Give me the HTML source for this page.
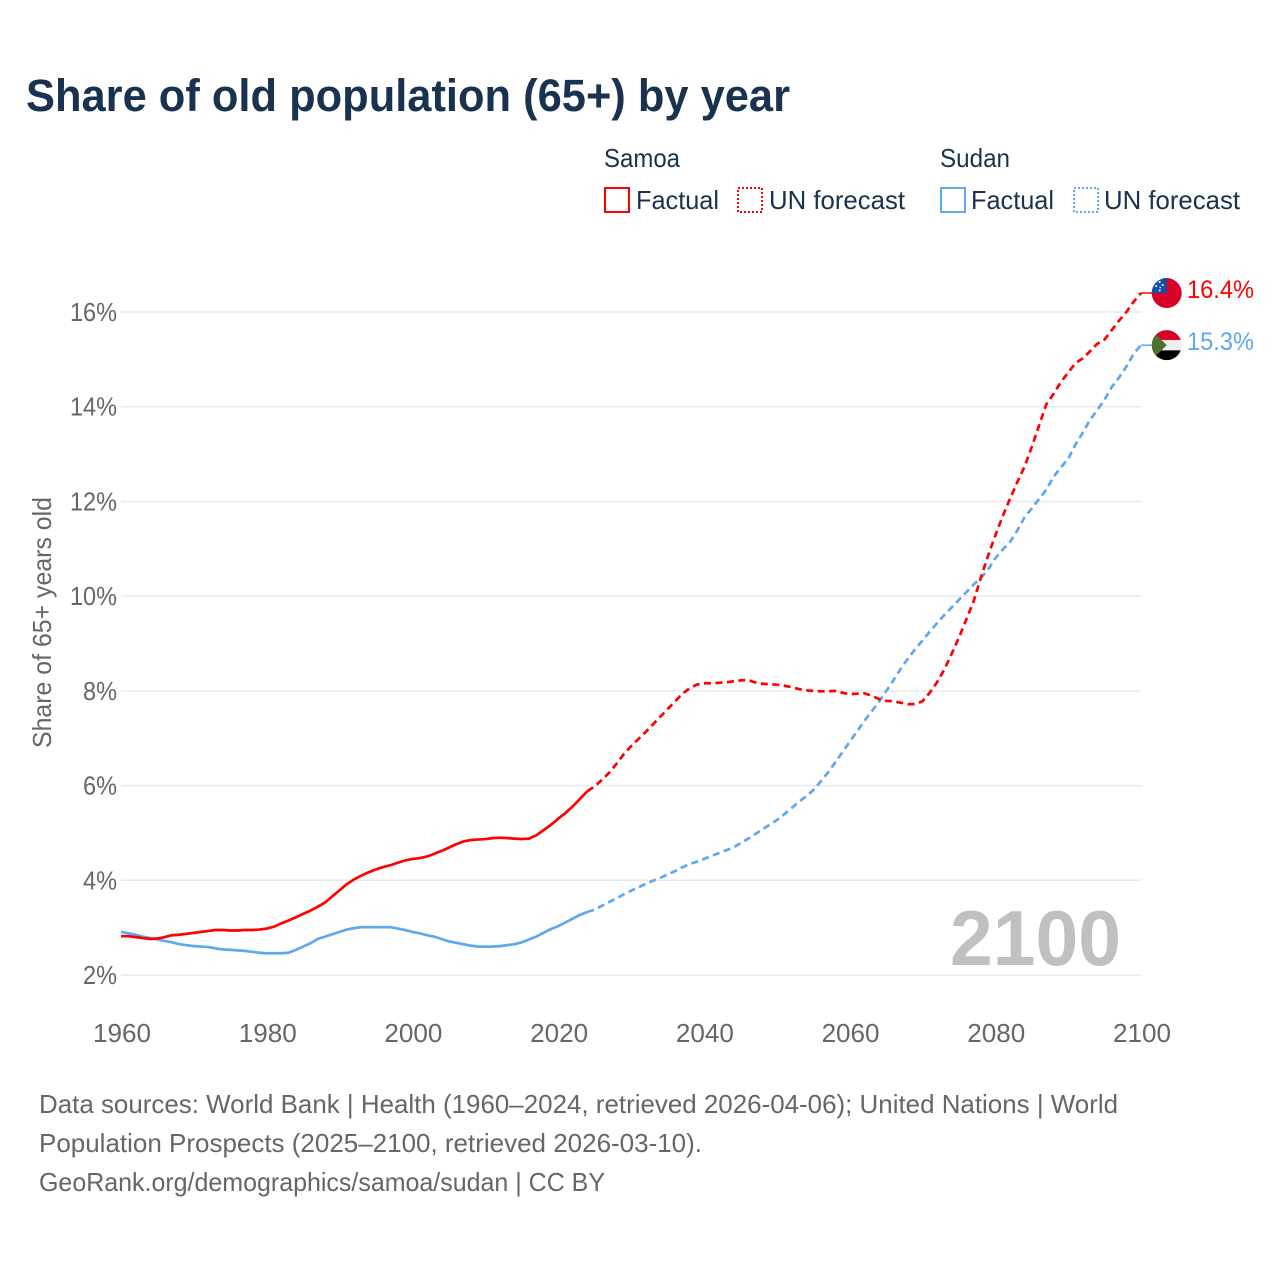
<!DOCTYPE html>
<html lang="en">
<head>
<meta charset="utf-8">
<title>Share of old population (65+) by year</title>
<style>
html,body{margin:0;padding:0;background:#fff;}
svg{display:block;font-family:"Liberation Sans",sans-serif;}
</style>
</head>
<body>
<svg id="chart" xmlns="http://www.w3.org/2000/svg" width="1280" height="1280" viewBox="0 0 1280 1280">
  <defs>
    <clipPath id="flag-clip"><circle cx="0" cy="0" r="15"></circle></clipPath>
  </defs>
  <rect x="0" y="0" width="1280" height="1280" fill="#ffffff"></rect>
  <text x="26" y="111" font-size="45" font-weight="700" fill="#18324f" textLength="764" lengthAdjust="spacingAndGlyphs">Share of old population (65+) by year</text>

  <g font-size="26" fill="#18324f">
    <text x="604" y="167" textLength="76" lengthAdjust="spacingAndGlyphs">Samoa</text>
    <rect x="605" y="188" width="24" height="24" fill="none" stroke="#ff0000" stroke-width="2"></rect>
    <text x="636" y="209" textLength="83" lengthAdjust="spacingAndGlyphs">Factual</text>
    <rect x="738" y="188" width="24" height="24" fill="none" stroke="#ff0000" stroke-width="2" stroke-dasharray="2 2"></rect>
    <text x="769" y="209" textLength="136" lengthAdjust="spacingAndGlyphs">UN forecast</text>
    <text x="940" y="167" textLength="70" lengthAdjust="spacingAndGlyphs">Sudan</text>
    <rect x="941" y="188" width="24" height="24" fill="none" stroke="#5ea8ee" stroke-width="2"></rect>
    <text x="971" y="209" textLength="83" lengthAdjust="spacingAndGlyphs">Factual</text>
    <rect x="1074" y="188" width="24" height="24" fill="none" stroke="#5ea8ee" stroke-width="2" stroke-dasharray="2 2"></rect>
    <text x="1104" y="209" textLength="136" lengthAdjust="spacingAndGlyphs">UN forecast</text>
  </g>

  <g id="grid"></g>
  <g id="y-ticks"></g>
  <g id="x-ticks"></g>
  <text transform="translate(51,748) rotate(-90)" font-size="26" fill="#666666" textLength="251" lengthAdjust="spacingAndGlyphs">Share of 65+ years old</text>
  <text x="950" y="965" font-size="78" font-weight="700" fill="#c0c0c0" textLength="171" lengthAdjust="spacingAndGlyphs">2100</text>

  <g id="series"></g>

  <g id="flag-samoa">
    <g clip-path="url(#flag-clip)">
      <rect x="-16" y="-16" width="32" height="32" fill="#d80027"></rect>
      <rect x="-16" y="-16" width="16" height="16" fill="#0b52a8"></rect>
      <circle cx="-7" cy="-11" r="1" fill="#fff"></circle>
      <circle cx="-10.5" cy="-7" r="1" fill="#fff"></circle>
      <circle cx="-4" cy="-8" r="1" fill="#fff"></circle>
      <circle cx="-6.5" cy="-5.5" r="0.8" fill="#fff"></circle>
      <circle cx="-7" cy="-2.5" r="1" fill="#fff"></circle>
    </g>
  </g>
  <g id="flag-sudan">
    <g clip-path="url(#flag-clip)">
      <rect x="-16" y="-16" width="32" height="11" fill="#d80027"></rect>
      <rect x="-16" y="-5.2" width="32" height="10.4" fill="#eeeeee"></rect>
      <rect x="-16" y="5.2" width="32" height="11" fill="#000000"></rect>
      <polygon points="-16,-16 0,0 -16,16" fill="#4f6f2f"></polygon>
    </g>
  </g>
  <text id="label-samoa" x="1187" font-size="25" fill="#ff0000" textLength="67" lengthAdjust="spacingAndGlyphs"></text>
  <text id="label-sudan" x="1187" font-size="25" fill="#5ea8ee" textLength="67" lengthAdjust="spacingAndGlyphs"></text>

  <g font-size="26" fill="#666666">
    <text x="39" y="1113" textLength="1079" lengthAdjust="spacingAndGlyphs">Data sources: World Bank | Health (1960–2024, retrieved 2026-04-06); United Nations | World</text>
    <text x="39" y="1152" textLength="663" lengthAdjust="spacingAndGlyphs">Population Prospects (2025–2100, retrieved 2026-03-10).</text>
    <text x="39" y="1191" textLength="566" lengthAdjust="spacingAndGlyphs">GeoRank.org/demographics/samoa/sudan | CC BY</text>
  </g>
</svg>
<script>
const xTickYears = [1960, 1980, 2000, 2020, 2040, 2060, 2080, 2100];
const yTickValues = [2, 4, 6, 8, 10, 12, 14, 16];
const factualStartYear = 1960;
const forecastStartYear = 2024;
const samoaFactual = [2.82,2.82,2.80,2.78,2.76,2.77,2.80,2.84,2.85,2.87,2.89,2.91,2.93,2.95,2.95,2.94,2.94,2.95,2.95,2.96,2.98,3.02,3.09,3.15,3.22,3.29,3.36,3.44,3.53,3.66,3.79,3.92,4.02,4.10,4.17,4.23,4.28,4.32,4.37,4.42,4.45,4.47,4.50,4.56,4.62,4.69,4.76,4.82,4.85,4.86,4.87,4.89,4.90,4.89,4.88,4.87,4.88,4.95,5.06,5.17,5.30,5.42,5.56,5.72,5.88];
const sudanFactual = [2.91,2.88,2.85,2.81,2.78,2.75,2.72,2.69,2.65,2.63,2.61,2.60,2.59,2.56,2.54,2.53,2.52,2.51,2.49,2.47,2.46,2.46,2.46,2.47,2.53,2.60,2.67,2.76,2.81,2.86,2.91,2.96,2.99,3.01,3.01,3.01,3.01,3.01,2.98,2.95,2.91,2.88,2.84,2.81,2.76,2.71,2.68,2.65,2.62,2.60,2.60,2.60,2.61,2.63,2.65,2.69,2.75,2.81,2.89,2.97,3.03,3.11,3.19,3.27,3.33];
const samoaForecast = [5.88,5.98,6.12,6.27,6.46,6.66,6.83,6.98,7.13,7.29,7.45,7.61,7.77,7.93,8.05,8.13,8.16,8.16,8.17,8.18,8.20,8.22,8.23,8.18,8.15,8.14,8.13,8.11,8.08,8.04,8.01,8.00,7.99,7.99,8.00,7.96,7.93,7.94,7.95,7.90,7.83,7.79,7.78,7.75,7.72,7.72,7.78,7.96,8.18,8.45,8.78,9.12,9.50,9.88,10.38,10.85,11.28,11.68,12.05,12.40,12.73,13.15,13.60,14.05,14.27,14.52,14.72,14.92,15.02,15.17,15.33,15.42,15.62,15.82,16.00,16.22,16.40];
const sudanForecast = [3.33,3.38,3.46,3.54,3.62,3.70,3.78,3.85,3.92,3.99,4.05,4.12,4.19,4.27,4.34,4.39,4.45,4.51,4.57,4.63,4.69,4.78,4.87,4.97,5.07,5.17,5.27,5.39,5.52,5.65,5.77,5.90,6.08,6.27,6.48,6.70,6.92,7.14,7.36,7.56,7.76,7.99,8.22,8.46,8.68,8.88,9.06,9.25,9.43,9.60,9.76,9.92,10.08,10.24,10.38,10.56,10.80,10.98,11.14,11.38,11.66,11.85,12.05,12.25,12.52,12.72,12.90,13.20,13.45,13.72,13.93,14.15,14.42,14.62,14.85,15.12,15.30];

const NS = 'http://www.w3.org/2000/svg';
const plotLeft = 121, plotRight = 1141, plotBottom = 975, plotTop = 312;
function xScale(year) { return plotLeft + (year - 1960) * (plotRight - plotLeft) / 140; }
function yScale(v) { return plotBottom - (v - 2) * (plotBottom - plotTop) / 14; }
function make(tag, parent, attrs) {
  const el = document.createElementNS(NS, tag);
  for (const k in attrs) el.setAttribute(k, attrs[k]);
  parent.appendChild(el);
  return el;
}
const gridGroup = document.getElementById('grid');
const yTickGroup = document.getElementById('y-ticks');
const xTickGroup = document.getElementById('x-ticks');
const seriesGroup = document.getElementById('series');

yTickValues.forEach(function (v) {
  const line = make('line', gridGroup, { x1: plotLeft, x2: plotRight, y1: yScale(v), y2: yScale(v), stroke: '#e9e9e9', 'stroke-width': 1.5 });
  
  
  const label = v + '%';
  const t = make('text', yTickGroup, { x: 117, y: yScale(v) + 9, 'text-anchor': 'end', 'font-size': 26, fill: '#666666', textLength: v >= 10 ? 47 : 34, lengthAdjust: 'spacingAndGlyphs' });
  
  
  t.textContent = label;
});
xTickYears.forEach(function (year) {
  const t = make('text', xTickGroup, { x: xScale(year) + 1, y: 1042, 'text-anchor': 'middle', 'font-size': 26, fill: '#666666', textLength: 58, lengthAdjust: 'spacingAndGlyphs' });
  
  
  t.textContent = String(year);
});

function pathFrom(values, startYear) {
  return values.map(function (v, i) {
    return (i ? 'L' : 'M') + xScale(startYear + i).toFixed(2) + ' ' + yScale(v).toFixed(2);
  }).join(' ');
}
function drawLine(values, startYear, color, dash) {
  const p = make('path', seriesGroup, { d: pathFrom(values, startYear), fill: 'none', stroke: color, 'stroke-width': 2.7, 'stroke-linejoin': 'round' });
  if (dash) p.setAttribute('stroke-dasharray', dash);
  return p;
}
const sudanFactualLine = drawLine(sudanFactual, factualStartYear, '#5ea8ee');


const samoaFactualLine = drawLine(samoaFactual, factualStartYear, '#ff0000');


const sudanForecastLine = drawLine(sudanForecast, forecastStartYear, '#5ea8ee', '7 4.5');


const samoaForecastLine = drawLine(samoaForecast, forecastStartYear, '#ff0000', '7 4.5');



function endMarker(values, color, flagId, labelId, connectorName) {
  const last = values[values.length - 1];
  const y = yScale(last);
  const c = make('line', seriesGroup, { x1: plotRight, x2: 1153, y1: y, y2: y, stroke: color, 'stroke-width': 1.5 });
  
  
  document.getElementById(flagId).setAttribute('transform', 'translate(1166.7,' + y + ')');
  const label = document.getElementById(labelId);
  label.setAttribute('y', y + 5);
  label.textContent = last.toFixed(1) + '%';
}
endMarker(samoaForecast, '#ff0000', 'flag-samoa', 'label-samoa', 'samoa-end-connector');
endMarker(sudanForecast, '#5ea8ee', 'flag-sudan', 'label-sudan', 'sudan-end-connector');
</script>
</body>
</html>
